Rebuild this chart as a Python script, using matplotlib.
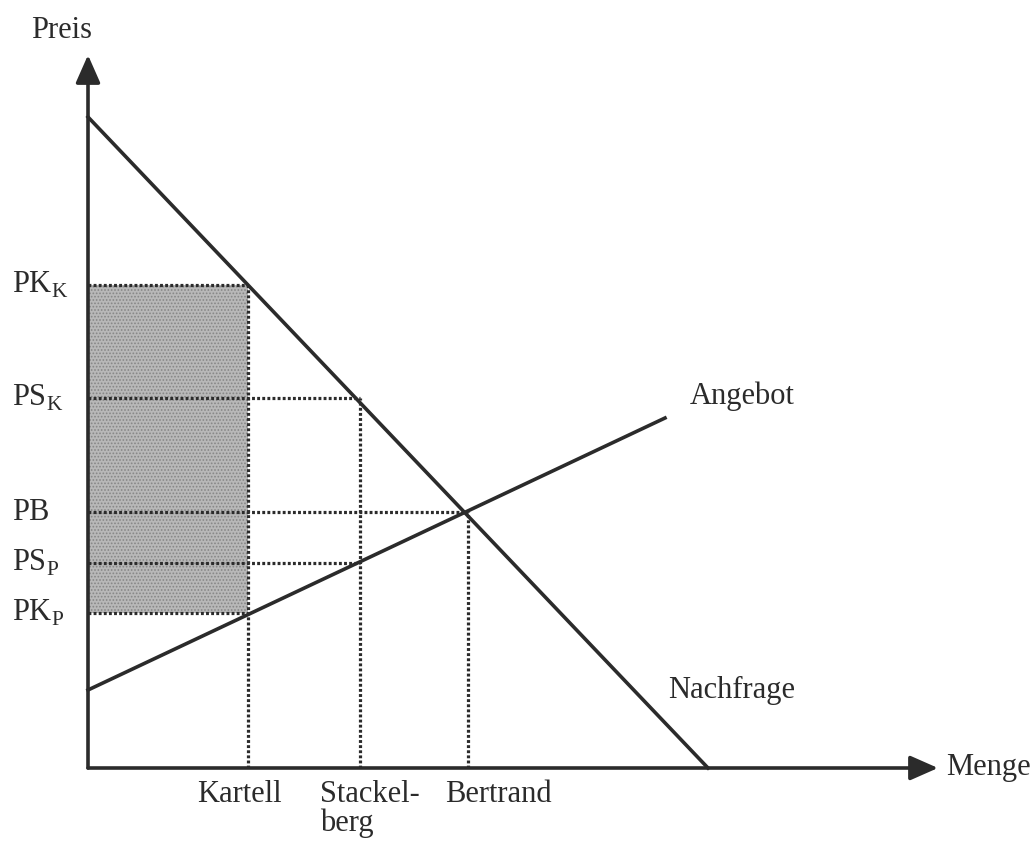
import matplotlib.pyplot as plt

plt.rcParams['font.family'] = ['Liberation Serif', 'DejaVu Serif']
plt.rcParams['mathtext.fontset'] = 'custom'
plt.rcParams['mathtext.rm'] = 'Liberation Serif'
plt.rcParams['hatch.color'] = '#868686'
plt.rcParams['hatch.linewidth'] = 0.8

# Nachfrage- und Angebotsgerade (Menge, Preis)
demand_q = [0, 620]
demand_p = [651, 0]
supply_q = [0, 577]
supply_p = [78, 350]

# Preise: (Label, Preis, bis zu welcher Menge gepunktet)
prices = [
    (r"PK$_{\rm K}$", 483, 160),
    (r"PS$_{\rm K}$", 370, 272),
    ("PB", 256, 380),
    (r"PS$_{\rm P}$", 205, 272),
    (r"PK$_{\rm P}$", 155, 160),
]
# senkrechte Hilfslinien (Menge, Preis)
vlines = [(160, 483), (272, 370), (380, 256)]
q_labels = ["Kartell", "Stackel-\nberg", "Bertrand"]
q_label_x = [151, 232, 410]

ink = '#2b2b2b'
fs = 22

fig = plt.figure(figsize=(10.32, 8.41), dpi=100)
ax = fig.add_axes([0, 0, 1, 1])
ax.set_xlim(-88, 944)
ax.set_ylim(-73, 768)
ax.axis('off')

# schattierte Fläche
ax.fill_between([0, 160], 155, 483, facecolor='#b8b8b8', hatch='.....',
                edgecolor='none', linewidth=0, zorder=1)

# gepunktete Hilfslinien
for lab, p, q in prices:
    ax.plot([0, q], [p, p], color=ink, lw=2.3, ls=(0, (0.9, 0.7)), zorder=2)
    ax.text(-76, p, lab, fontsize=fs, ha='left', va='center', color=ink)
for q, p in vlines:
    ax.plot([q, q], [0, p], color=ink, lw=2.3, ls=(0, (0.9, 0.7)), zorder=2)

# Kurven
ax.plot(demand_q, demand_p, color=ink, lw=2.6, zorder=3)
ax.plot(supply_q, supply_p, color=ink, lw=2.6, zorder=3)

# Achsen mit Pfeilen
arrow = dict(arrowstyle='-|>,head_length=1.7,head_width=0.75',
             color=ink, lw=2.6, shrinkA=0, shrinkB=0)
ax.annotate('', xy=(0, 713), xytext=(0, 0), arrowprops=arrow)
ax.annotate('', xy=(850, 0), xytext=(0, 0), arrowprops=arrow)

ax.text(-26, 738, "Preis", fontsize=fs, ha='center', va='center', color=ink)
ax.text(858, 0, "Menge", fontsize=fs, ha='left', va='center', color=ink)
ax.text(602, 372, "Angebot", fontsize=fs, ha='left', va='center', color=ink)
ax.text(580, 78, "Nachfrage", fontsize=fs, ha='left', va='center', color=ink)

ax.text(q_label_x[0], -12, q_labels[0], fontsize=fs, ha='center', va='top', color=ink)
ax.text(q_label_x[1], -12, q_labels[1], fontsize=fs, ha='left', va='top',
        color=ink, linespacing=1.0)
ax.text(q_label_x[2], -12, q_labels[2], fontsize=fs, ha='center', va='top', color=ink)

fig.savefig('out.png', dpi=100)
